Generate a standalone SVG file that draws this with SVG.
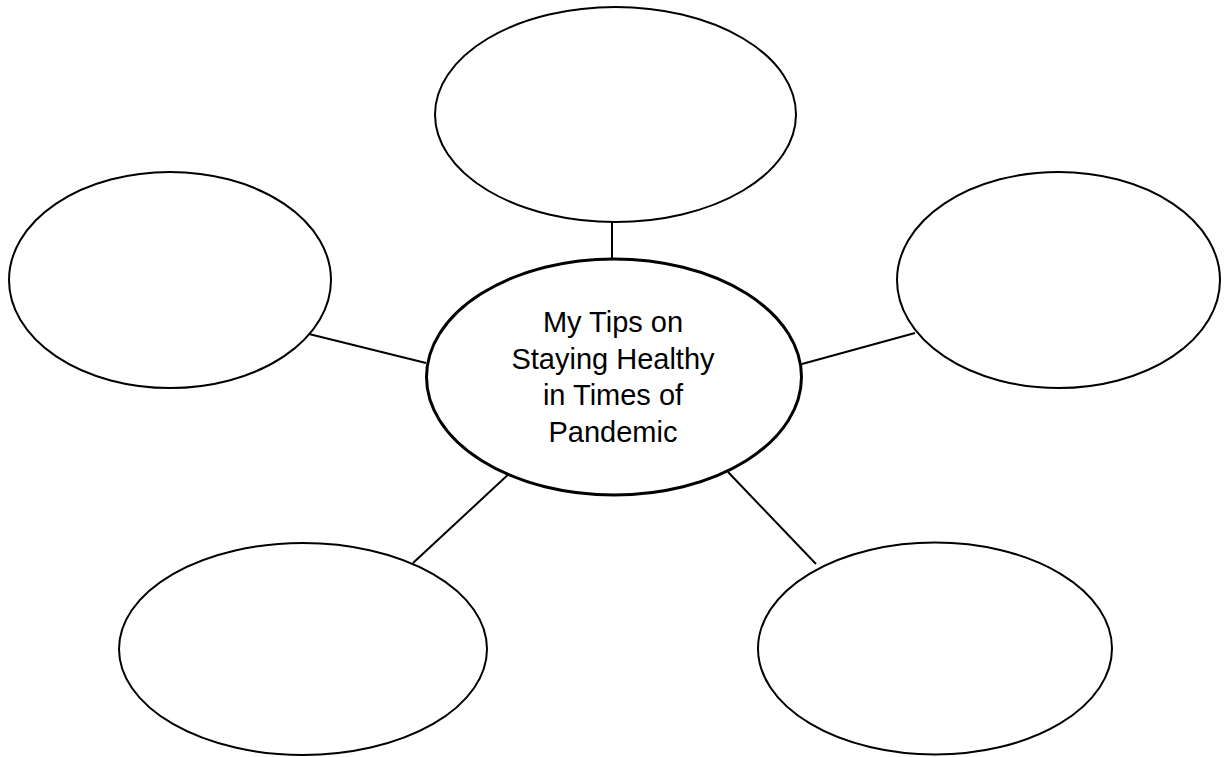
<svg xmlns="http://www.w3.org/2000/svg" width="1226" height="757" viewBox="0 0 1226 757">
  <style>
    .bubble { fill: #ffffff; stroke: #000000; stroke-width: 2; }
    .hub { fill: #ffffff; stroke: #000000; stroke-width: 3; }
    .link { stroke: #000000; stroke-width: 2; fill: none; }
    .title { font-family: "Liberation Sans", Arial, sans-serif; font-size: 29px; fill: #000000; text-anchor: middle; }
  </style>
  <rect width="1226" height="757" fill="#ffffff"/>

  <!-- spokes from the central topic to each blank bubble -->
  <g id="connectors">
    <line class="link" x1="612" y1="222" x2="612" y2="260"/>
    <line class="link" x1="309" y1="334" x2="426" y2="363"/>
    <line class="link" x1="802" y1="364" x2="915" y2="333"/>
    <line class="link" x1="511" y1="472" x2="413" y2="563"/>
    <line class="link" x1="728" y1="472" x2="816" y2="564"/>
  </g>

  <g id="node-top">
    <ellipse class="bubble" cx="615.5" cy="114.5" rx="180.5" ry="107.5"/>
  </g>
  <g id="node-left">
    <ellipse class="bubble" cx="170" cy="280" rx="161" ry="108"/>
  </g>
  <g id="node-right">
    <ellipse class="bubble" cx="1058.5" cy="280" rx="161.5" ry="108"/>
  </g>
  <g id="node-bottom-left">
    <ellipse class="bubble" cx="303" cy="649" rx="184" ry="106"/>
  </g>
  <g id="node-bottom-right">
    <ellipse class="bubble" cx="935" cy="648.5" rx="177" ry="106"/>
  </g>

  <g id="node-center">
    <ellipse class="hub" cx="614" cy="377" rx="187.5" ry="118"/>
    <text class="title" x="613" y="332">My Tips on</text>
    <text class="title" x="613" y="368.5">Staying Healthy</text>
    <text class="title" x="613" y="405">in Times of</text>
    <text class="title" x="613" y="441.5">Pandemic</text>
  </g>
</svg>
